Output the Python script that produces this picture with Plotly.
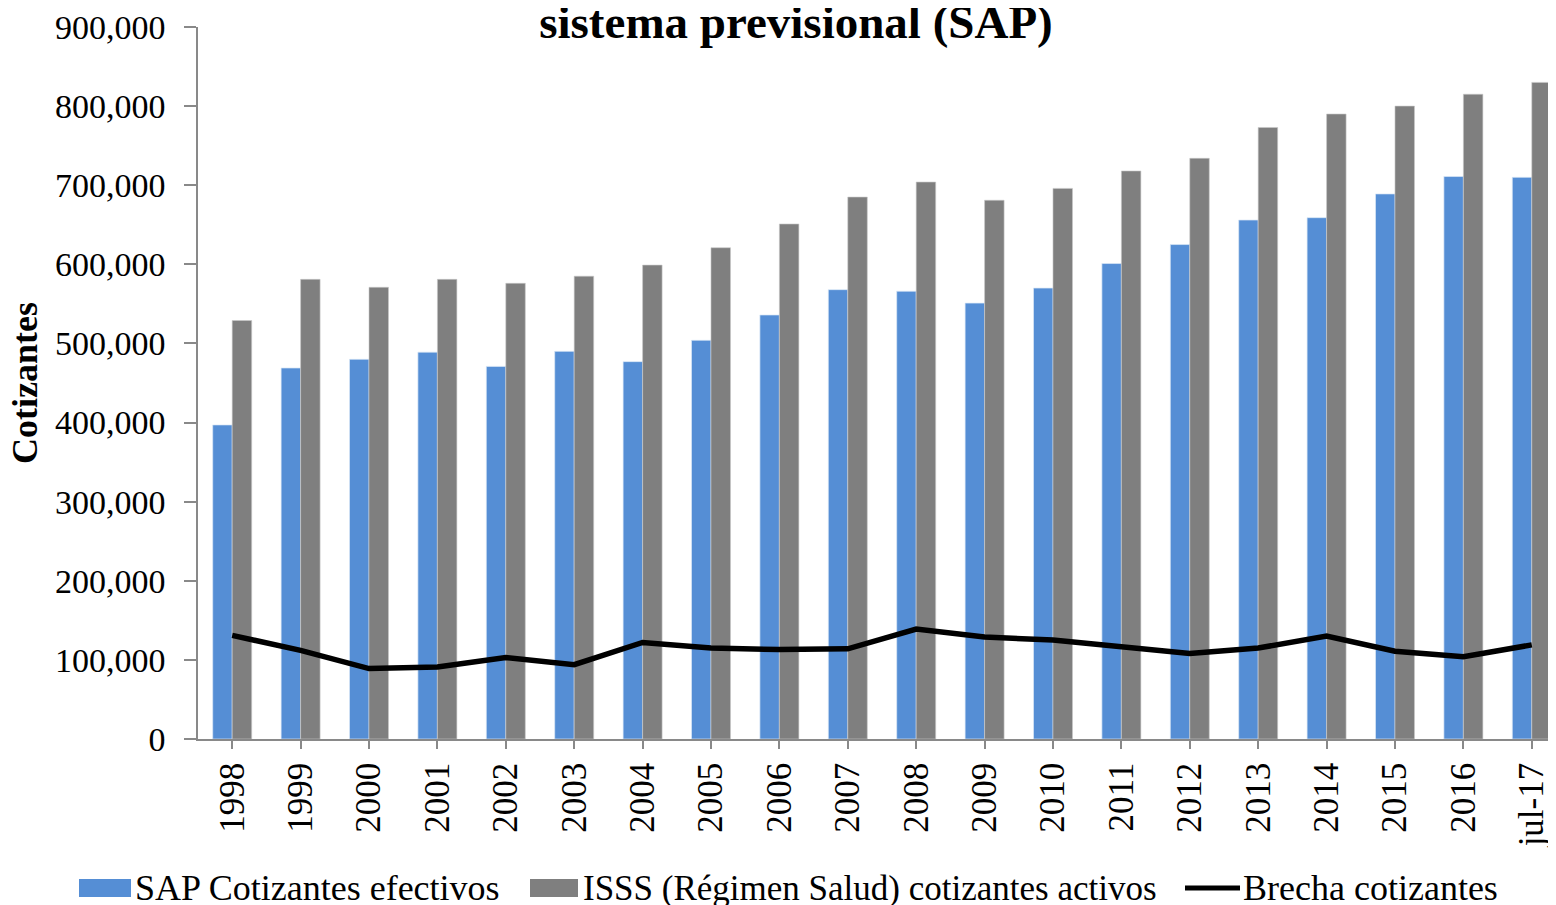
import plotly.graph_objects as go

categories = ["1998", "1999", "2000", "2001", "2002", "2003", "2004", "2005", "2006", "2007",
              "2008", "2009", "2010", "2011", "2012", "2013", "2014", "2015", "2016", "jul-17"]
sap_cotizantes = [397000, 469000, 480000, 489000, 471000, 490000, 477000, 504000, 536000, 568000,
                  566000, 551000, 570000, 601000, 625000, 656000, 659000, 689000, 711000, 710000]
isss_cotizantes = [529000, 581000, 571000, 581000, 576000, 585000, 599000, 621000, 651000, 685000,
                   704000, 681000, 696000, 718000, 734000, 773000, 790000, 800000, 815000, 830000]
brecha = [131000, 112000, 89000, 91000, 103000, 94000, 122000, 115000, 113000, 114000,
          139000, 129000, 125000, 117000, 108000, 115000, 130000, 111000, 104000, 119000]
y_ticks = [0, 100000, 200000, 300000, 400000, 500000, 600000, 700000, 800000, 900000]
y_labels = ["0", "100,000", "200,000", "300,000", "400,000", "500,000", "600,000",
            "700,000", "800,000", "900,000"]
series_names = ["SAP Cotizantes efectivos", "ISSS (Régimen Salud) cotizantes activos",
                "Brecha cotizantes"]
series_colors = ["#558ED5", "#7F7F7F", "#000000"]

FONT = "Liberation Serif"
x_idx = list(range(len(categories)))

# page offset (browser body margin) and figure geometry
OFF = 8
W, H = 1556 - OFF, 905 - OFF
ML, MR, MT, MB = 198 - OFF, 0, 27 - OFF, 905 - 739
PW, PH = W - ML - MR, H - MT - MB


def px(xp):
    return (xp - OFF - ML) / PW


def py(yp):
    return (H - MB - (yp - OFF)) / PH


fig = go.Figure()
fig.add_trace(go.Bar(x=x_idx, y=sap_cotizantes, name=series_names[0],
                     marker=dict(color=series_colors[0],
                                 line=dict(width=1, color="rgba(220,232,246,0.7)"))))
fig.add_trace(go.Bar(x=x_idx, y=isss_cotizantes, name=series_names[1],
                     marker=dict(color=series_colors[1],
                                 line=dict(width=1, color="rgba(200,200,200,0.6)"))))
fig.add_trace(go.Scatter(x=x_idx, y=brecha, name=series_names[2], mode="lines",
                         line=dict(color=series_colors[2], width=5.5)))

fig.update_layout(
    width=W, height=H,
    margin=dict(l=ML, r=MR, t=MT, b=MB, autoexpand=False),
    paper_bgcolor="white", plot_bgcolor="white",
    barmode="group", bargap=0.43, bargroupgap=0,
    font=dict(family=FONT, size=35, color="#000000"),
    title=dict(text="<b>sistema previsional (SAP)</b>", font=dict(family=FONT, size=47, color="#000"),
               xref="paper", x=px(796), xanchor="center", yref="container",
               y=1 - (22 - OFF) / H, yanchor="middle", automargin=False),
    showlegend=False,
)
fig.update_xaxes(
    type="linear", range=[-0.5, 19.354], tickmode="array", tickvals=x_idx, ticktext=categories,
    tickangle=-90, showgrid=False, zeroline=False, showline=True, linecolor="#898989", linewidth=1.5,
    ticks="outside", ticklen=8, tickcolor="#898989", tickwidth=1.5, automargin=False,
    tickfont=dict(family=FONT, size=35, color="#000"),
)
fig.update_yaxes(
    range=[0, 900000], tickmode="array", tickvals=y_ticks, ticktext=y_labels,
    showgrid=False, zeroline=False, showline=True, linecolor="#898989", linewidth=1.5,
    ticks="outside", ticklen=12, tickcolor="#898989", tickwidth=1.5, automargin=False,
    tickfont=dict(family=FONT, size=34, color="#000"), ticklabelstandoff=12,
)
fig.add_annotation(text="<b>Cotizantes</b>", xref="paper", yref="paper", x=px(25), y=0.5,
                   xanchor="center", yanchor="middle", textangle=-90, showarrow=False,
                   font=dict(family=FONT, size=36, color="#000"))

# legend (drawn below the plot)
leg_y = 888
sym_x = [(79, 131), (530, 578), (1185, 1240)]
txt_x = [135, 583, 1243]
for i in range(3):
    x0, x1 = sym_x[i]
    if i < 2:
        fig.add_shape(type="rect", xref="paper", yref="paper", x0=px(x0), x1=px(x1),
                      y0=py(leg_y - 9), y1=py(leg_y + 9), fillcolor=series_colors[i],
                      line=dict(width=0), layer="above")
    else:
        fig.add_shape(type="line", xref="paper", yref="paper", x0=px(x0), x1=px(x1),
                      y0=py(leg_y), y1=py(leg_y), line=dict(color=series_colors[i], width=5),
                      layer="above")
    fig.add_annotation(text=series_names[i], xref="paper", yref="paper", x=px(txt_x[i] - 2),
                       y=py(leg_y), xanchor="left", yanchor="middle", showarrow=False,
                       font=dict(family=FONT, size=36 if i != 1 else 35, color="#000"))

fig.write_html("out.html")
